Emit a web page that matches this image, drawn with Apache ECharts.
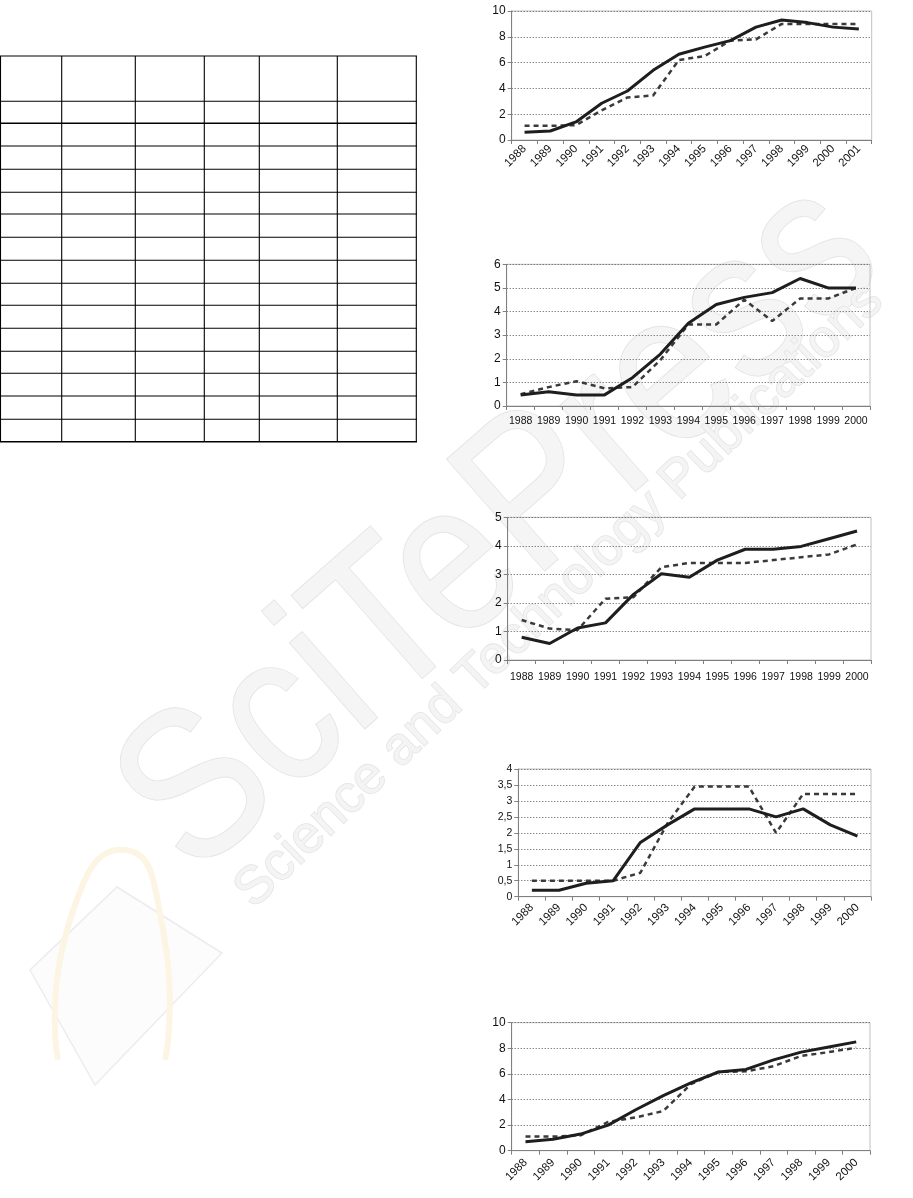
<!DOCTYPE html>
<html>
<head>
<meta charset="utf-8">
<script src="https://cdn.jsdelivr.net/npm/echarts@6/dist/echarts.min.js"></script>
<style>
html,body{margin:0;padding:0;background:#fff;}
#c{position:absolute;left:0;top:0;width:913px;height:1198px;}
</style>
</head>
<body>
<div id="c"></div>
<script>
// ---- data ----
var years14 = ['1988','1989','1990','1991','1992','1993','1994','1995','1996','1997','1998','1999','2000','2001'];
var years13 = ['1988','1989','1990','1991','1992','1993','1994','1995','1996','1997','1998','1999','2000'];

var c1Solid  = [0.6,0.7,1.4,2.85,3.8,5.4,6.65,7.2,7.7,8.75,9.3,9.1,8.75,8.6];
var c1Dashed = [1.1,1.1,1.15,2.3,3.3,3.45,6.2,6.5,7.7,7.8,9.0,9.0,9.0,9.0];

var c2Solid  = [0.47,0.6,0.47,0.47,1.2,2.2,3.5,4.3,4.6,4.8,5.4,5.0,5.0];
var c2Dashed = [0.5,0.8,1.05,0.75,0.8,1.95,3.45,3.45,4.5,3.6,4.55,4.55,5.0];

var c3Solid  = [0.8,0.58,1.12,1.3,2.3,3.02,2.9,3.5,3.88,3.88,3.98,4.25,4.52];
var c3Dashed = [1.4,1.1,1.05,2.15,2.2,3.25,3.4,3.4,3.4,3.5,3.6,3.7,4.05];

var c4Solid  = [0.2,0.2,0.42,0.5,1.7,2.25,2.75,2.75,2.75,2.5,2.75,2.25,1.9];
var c4Dashed = [0.5,0.5,0.5,0.5,0.75,2.3,3.45,3.45,3.45,2.0,3.22,3.22,3.22];

var c5Solid  = [0.7,0.9,1.3,2.0,3.2,4.3,5.3,6.15,6.35,7.1,7.7,8.1,8.5];
var c5Dashed = [1.1,1.1,1.2,2.25,2.6,3.1,5.2,6.15,6.2,6.6,7.4,7.7,8.05];

var yMax      = [10, 6, 5, 4, 10];
var yInterval = [2, 1, 1, 0.5, 2];

// ---- layout ----
var grids = [
  {left:511.7, top:11,    width:360,   height:129},
  {left:506.7, top:264.3, width:363.3, height:141.7},
  {left:507.7, top:517.3, width:363.3, height:142.7},
  {left:518.3, top:769,   width:352.7, height:127.7},
  {left:511.7, top:1022.7,width:358.3, height:128}
];
var cats = [years14, years13, years13, years13, years13];
var solids = [c1Solid, c2Solid, c3Solid, c4Solid, c5Solid];
var dashes = [c1Dashed, c2Dashed, c3Dashed, c4Dashed, c5Dashed];
var rotated = [true, false, false, true, true];
var xMargin = [7, 10, 12, 9, 10];
var yFont = [12, 12, 12, 10.5, 12];

var FONT = 'Liberation Sans, Arial, sans-serif';
var AX = '#808080';

var option = {
  animation: false,
  grid: [], xAxis: [], yAxis: [], series: [], graphic: []
};

for (var i = 0; i < 5; i++) {
  var g = grids[i];
  option.grid.push({left:g.left, top:g.top, width:g.width, height:g.height,
    show:true, borderColor:'#c0c0c0', borderWidth:1, backgroundColor:'transparent'});
  option.xAxis.push({
    gridIndex:i, type:'category', data:cats[i], boundaryGap:true,
    axisLine:{show:true, lineStyle:{color:AX, width:1}},
    axisTick:{show:true, length:4, interval:0, lineStyle:{color:AX}},
    axisLabel:{interval:0, hideOverlap:false, rotate: rotated[i] ? 45 : 0,
      fontSize: rotated[i] ? 11.5 : 10.5, color:'#111', fontFamily:FONT, margin:xMargin[i]},
    splitLine:{show:false}
  });
  option.yAxis.push({
    gridIndex:i, type:'value', min:0, max:yMax[i], interval:yInterval[i],
    axisLine:{show:true, lineStyle:{color:AX, width:1}},
    axisTick:{show:true, length:4, lineStyle:{color:AX}},
    axisLabel:{fontSize:yFont[i], color:'#111', fontFamily:FONT, margin:6,
      formatter: (i === 3) ? function(v){ return String(v).replace('.', ','); } : null},
    splitLine:{show:true, lineStyle:{color:'#555', width:1, type:[1,2]}}
  });
  option.series.push({
    type:'line', xAxisIndex:i, yAxisIndex:i, data:dashes[i], symbol:'none',
    lineStyle:{color:'#3a3a3a', width:2.5, type:[5,4]}, z:3
  });
  option.series.push({
    type:'line', xAxisIndex:i, yAxisIndex:i, data:solids[i], symbol:'none',
    lineStyle:{color:'#1e1e1e', width:3}, z:4
  });
}

// ---- empty table (left) ----
var colX = [0.5, 61.7, 135.3, 204.3, 259.3, 337.3, 416.3];
var rowY = [56, 101.3, 123.3, 146, 169.3, 192.3, 214, 237.3, 260.3, 283.3, 305.3, 328.3, 351.3, 373.3, 396, 419.3, 441.7];
rowY.forEach(function(y, k){
  option.graphic.push({type:'line', z:5, silent:true,
    shape:{x1:0, y1:y, x2:417, y2:y},
    style:{stroke:'#000', lineWidth:(k===2||k===rowY.length-1)?1.6:1.1}});
});
colX.forEach(function(x){
  option.graphic.push({type:'line', z:5, silent:true,
    shape:{x1:x, y1:56, x2:x, y2:441.7},
    style:{stroke:'#000', lineWidth:1.1}});
});

// ---- faint publisher watermark ----
option.graphic.push({
  type:'text', z:-10, silent:true, x:225, y:915, rotation:0.72, scaleX:0.86,
  style:{text:'SciTePress', font:'215px Liberation Sans', fill:'#f5f5f5',
    stroke:'#e5e5e5', lineWidth:2, textAlign:'left', textVerticalAlign:'bottom'}
});
option.graphic.push({
  type:'text', z:-10, silent:true, x:262, y:918, rotation:0.765,
  style:{text:'Science and Technology Publications', font:'53px Liberation Sans', fill:'#f4f4f4',
    stroke:'#e3e3e3', lineWidth:1.5, textAlign:'left', textVerticalAlign:'bottom'}
});
option.graphic.push({
  type:'polygon', z:-11, silent:true,
  shape:{points:[[117,887],[222,953],[95,1085],[30,970]]},
  style:{fill:'#fcfcfc', stroke:'#ececec', lineWidth:1.5}
});
option.graphic.push({
  type:'polyline', z:-11, silent:true,
  shape:{points:[[58,1060],[70,920],[125,850],[163,930],[165,1060]], smooth:0.6},
  style:{stroke:'#fdf5e4', lineWidth:6, fill:null}
});

var chart = echarts.init(document.getElementById('c'), null, {renderer:'canvas', width:913, height:1198});
chart.setOption(option);
</script>
</body>
</html>
